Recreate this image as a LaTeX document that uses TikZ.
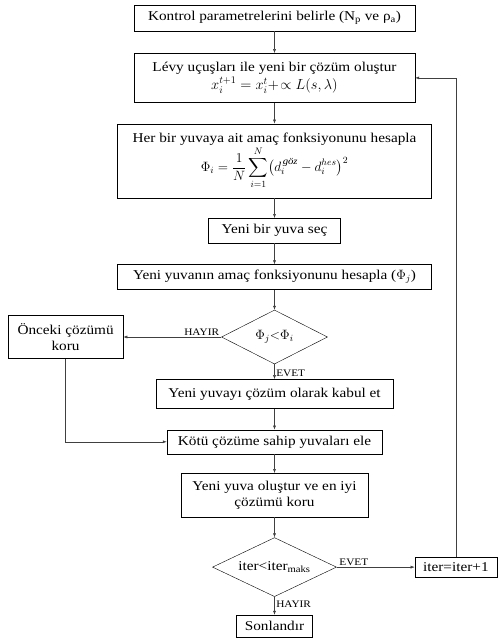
\RequirePackage{fix-cm}
\documentclass[tikz,border=0pt]{standalone}
\usepackage{amsmath,amssymb}
\usepackage{fontspec}
\setmainfont{Liberation Serif}[FakeStretch=1.13]
\usepackage{tikz}
\usetikzlibrary{shapes,arrows,positioning,calc,arrows.meta}

\begin{document}
\begin{tikzpicture}[x=1pt, y=-1pt, font=\fontsize{13.5}{16}\selectfont,
    akis/.style={draw, rectangle, thin, align=center, inner sep=2pt},
    karar/.style={draw, diamond, thin, inner sep=0pt, aspect=2.1, align=center},
    ok/.style={-{Latex[length=4pt,width=3pt]}, draw=black!75, line width=0.5pt},
    etiket/.style={font=\fontsize{10}{11}\selectfont, inner sep=1.5pt},
    node distance=21pt]
    \useasboundingbox (0,0) rectangle (498,641);
    \node[akis, minimum width=281pt, minimum height=26pt] (kp) at (274.5,18) {Kontrol parametrelerini belirle (N\textsubscript{p} ve ρ\textsubscript{a})};
    \node[akis, minimum width=281pt, minimum height=49pt, below=22pt of kp] (lv) {Lévy uçuşları ile yeni bir çözüm oluştur\\[2pt] {\fontsize{14.5}{16}\selectfont$x_i^{t+1}=x_i^{t}+\!\propto L(s,\lambda)$}};
    \node[akis, minimum width=314pt, minimum height=74pt, below=of lv] (af) {Her bir yuvaya ait amaç fonksiyonunu hesapla\\ $\displaystyle\Phi_i=\frac{1}{N}\sum_{i=1}^{N}\bigl(d_i^{\,\textit{göz}}-d_i^{hes}\bigr)^2$};
    \node[akis, minimum width=132pt, minimum height=25pt, below=20pt of af] (ys) {Yeni bir yuva seç};
    \node[akis, minimum width=314pt, minimum height=25pt, below=of ys] (ya) {Yeni yuvanın amaç fonksiyonunu hesapla ($\Phi_j$)};
    \node[karar, minimum width=106pt, minimum height=54pt, below=20pt of ya] (k1) {$\Phi_j{<}\Phi_i$};
    \node[akis, minimum width=115pt, minimum height=43pt, left=98pt of k1] (onc) {Önceki çözümü\\koru};
    \node[akis, minimum width=237pt, minimum height=29pt, below=15pt of k1] (kb) {Yeni yuvayı çözüm olarak kabul et};
    \node[akis, minimum width=215pt, minimum height=24pt, below=21pt of kb] (ke) {Kötü çözüme sahip yuvaları ele};
    \node[akis, minimum width=187pt, minimum height=44pt, below=19pt of ke] (yo) {Yeni yuva oluştur ve en iyi\\çözümü koru};
    \node[karar, minimum width=124pt, minimum height=59pt, below=20pt of yo] (k2) {iter<iter\textsubscript{maks}};
    \node[akis, minimum width=82pt, minimum height=20pt, right=78pt of k2] (it) {iter=iter+1};
    \node[akis, minimum width=76pt, minimum height=22pt, below=18pt of k2] (son) {Sonlandır};

    \draw[ok] (kp) -- (lv);
    \draw[ok] (lv) -- (af);
    \draw[ok] (af) -- (ys);
    \draw[ok] (ys) -- (ya);
    \draw[ok] (ya) -- (k1);
    \draw[ok] (k1.west) -- node[etiket, above, pos=.2] {HAYIR} (onc.east);
    \draw[ok] (k1.south) -- node[etiket, right, pos=.6] {EVET} (kb.north);
    \draw[ok] (kb) -- (ke);
    \draw[ok] (onc.south) |- (ke.west);
    \draw[ok] (ke) -- (yo);
    \draw[ok] (yo) -- (k2);
    \draw[ok] (k2.east) -- node[etiket, above, pos=.22] {EVET} (it.west);
    \draw[ok] (k2.south) -- node[etiket, right, pos=.4] {HAYIR} (son.north);
    \draw[ok] (it.north) |- (lv.east);
\end{tikzpicture}
\end{document}
